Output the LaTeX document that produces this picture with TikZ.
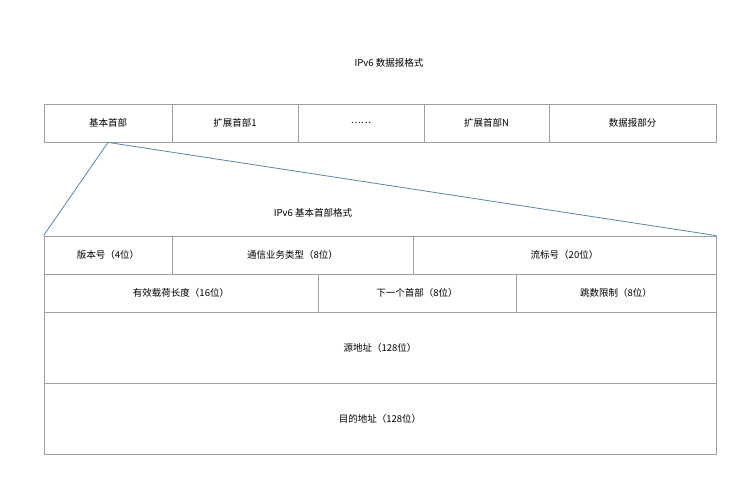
\documentclass[tikz,border=0pt]{standalone}
\usepackage{fontspec}
\setmainfont{Noto Sans CJK SC}
\definecolor{bord}{HTML}{9AA0A8}
\definecolor{conn}{HTML}{5A86A8}
\begin{document}
\begin{tikzpicture}[x=1pt,y=-1pt,
  cell/.style={draw=bord,line width=0.8pt,inner sep=0pt,font=\fontsize{9.5pt}{11pt}\selectfont},
  lbl/.style={font=\fontsize{9.5pt}{11pt}\selectfont}]
\useasboundingbox (0,0) rectangle (756,492);
\newcommand{\cellbox}[6]{\node[cell,minimum width=#4-#2,minimum height=#5-#3] (#1) at ({(#2+#4)/2},{(#3+#5)/2}) {#6};}
\node[lbl] (t1) at (389,63) {IPv6 数据报格式};
\cellbox{a}{44}{104}{172}{142}{基本首部}
\cellbox{b}{172}{104}{298}{142}{扩展首部1}
\cellbox{c}{298}{104}{424}{142}{……}
\cellbox{d}{424}{104}{549}{142}{扩展首部N}
\cellbox{e}{549}{104}{716}{142}{数据报部分}
\node[lbl] (t2) at (313,213) {IPv6 基本首部格式};
\cellbox{r1a}{44}{236}{172}{274}{版本号（4位）}
\cellbox{r1b}{172}{236}{413}{274}{通信业务类型（8位）}
\cellbox{r1c}{413}{236}{716}{274}{流标号（20位）}
\cellbox{r2a}{44}{274}{318}{312}{有效载荷长度（16位）}
\cellbox{r2b}{318}{274}{516}{312}{下一个首部（8位）}
\cellbox{r2c}{516}{274}{716}{312}{跳数限制（8位）}
\cellbox{r3}{44}{312}{716}{383}{源地址（128位）}
\cellbox{r4}{44}{383}{716}{454}{目的地址（128位）}
\draw[line width=0.8pt,color=conn] (a.south) -- (r1a.north west);
\draw[line width=0.8pt,color=conn] (a.south) -- (r1c.north east);
\end{tikzpicture}
\end{document}
